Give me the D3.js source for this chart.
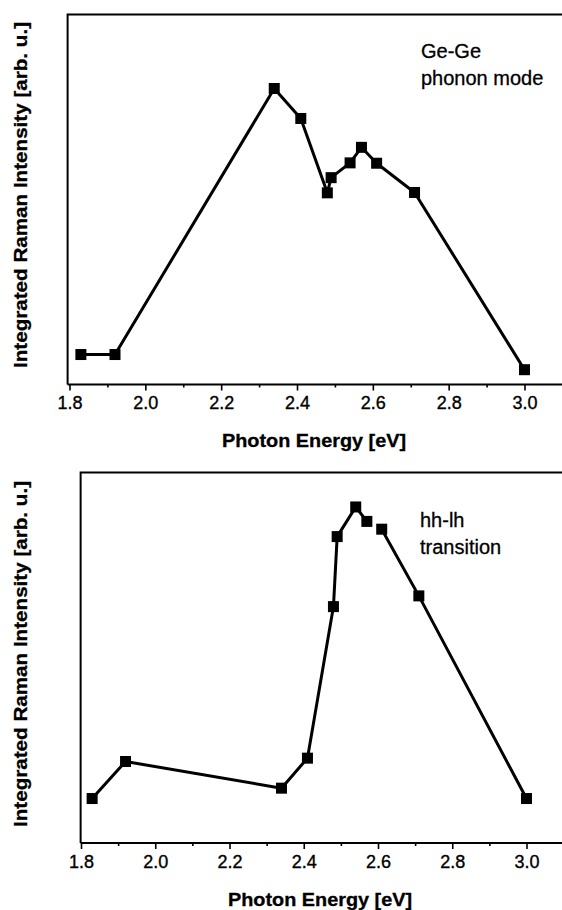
<!DOCTYPE html>
<html>
<head>
<meta charset="utf-8">
<script src="https://cdn.jsdelivr.net/npm/d3@7"></script>
<style>
  html, body { margin: 0; padding: 0; background: #fff; }
  svg { display: block; }
  text { font-family: "Liberation Sans", Arial, Helvetica, sans-serif; fill: #000; }
</style>
</head>
<body>
<svg id="chart" width="562" height="910"></svg>
<script>
// ---------- data ----------
const xTicksMajor = [1.8, 2.0, 2.2, 2.4, 2.6, 2.8, 3.0];
const xTicksMinor = [1.9, 2.1, 2.3, 2.5, 2.7, 2.9, 3.1];

// Ge-Ge phonon mode (arb. units)
const topEnergy    = [1.83, 1.92, 2.34, 2.41, 2.48, 2.49, 2.54, 2.57, 2.61, 2.71, 3.00];
const topIntensity = [8.1, 8.1, 80.0, 71.9, 51.8, 55.9, 59.9, 64.1, 59.8, 51.9, 4.0];

// hh-lh transition (arb. units)
const botEnergy    = [1.83, 1.92, 2.34, 2.41, 2.48, 2.49, 2.54, 2.57, 2.61, 2.71, 3.00];
const botIntensity = [12.0, 22.0, 14.8, 22.9, 63.8, 82.7, 90.7, 86.8, 84.7, 66.7, 12.0];
// the line is broken between 2.57 and 2.61 in the bottom panel
const botSegments  = [[0, 7], [8, 10]];
const topSegments  = [[0, 10]];

const topLabel = ["Ge-Ge", "phonon mode"];
const botLabel = ["hh-lh", "transition"];
const xTitle = "Photon Energy [eV]";
const yTitle = "Integrated Raman Intensity [arb. u.]";

// ---------- drawing ----------
const svg = d3.select("#chart");

function panel(cfg) {
  const g = svg.append("g");
  const x = d3.scaleLinear().domain([1.8, 3.0]).range([cfg.x18, cfg.x30]);
  const y = d3.scaleLinear().domain([0, 100]).range([cfg.bottom, cfg.top]);
  const left = x(cfg.xStart);

  // frame (right side runs off the picture)
  g.append("path")
    .attr("d", `M${left},${cfg.bottom} L${left},${cfg.top} L${600},${cfg.top}`)
    .attr("fill", "none").attr("stroke", "#000").attr("stroke-width", 2);

  // x axis
  const axis = d3.axisBottom(x).tickValues(xTicksMajor).tickSize(6).tickPadding(6)
    .tickFormat(d3.format(".1f"));
  const ax = g.append("g").attr("transform", `translate(0,${cfg.bottom})`).call(axis);
  ax.select(".domain").attr("d", `M${left},0 H600`).attr("stroke-width", 2);
  ax.selectAll(".tick line").attr("stroke-width", 1.6);
  ax.selectAll(".tick text").style("font-size", "18px").attr("fill", "#000")
    .attr("stroke", "#000").attr("stroke-width", 0.35);

  const minor = d3.axisBottom(x).tickValues(xTicksMinor).tickSize(3).tickFormat("");
  const mx = g.append("g").attr("transform", `translate(0,${cfg.bottom})`).call(minor);
  mx.select(".domain").remove();
  mx.selectAll(".tick line").attr("stroke-width", 1.6);

  // axis titles
  g.append("text")
    .attr("x", cfg.xTitleX).attr("y", cfg.xTitleY)
    .attr("text-anchor", "middle")
    .attr("textLength", 184).attr("lengthAdjust", "spacingAndGlyphs")
    .style("font-size", "18px").style("font-weight", "bold")
    .attr("stroke", "#000").attr("stroke-width", 0.3)
    .text(xTitle);

  g.append("text")
    .attr("transform", `translate(${cfg.yTitleX},${cfg.yTitleY}) rotate(-90)`)
    .attr("text-anchor", "middle")
    .attr("textLength", 346).attr("lengthAdjust", "spacingAndGlyphs")
    .style("font-size", "18px").style("font-weight", "bold")
    .attr("stroke", "#000").attr("stroke-width", 0.3)
    .text(yTitle);

  // data
  const pts = cfg.energy.map((e, i) => ({ e, v: cfg.intensity[i] }));
  const line = d3.line().x(d => x(d.e)).y(d => y(d.v));
  cfg.segments.forEach(([a, b]) => {
    g.append("path")
      .datum(pts.slice(a, b + 1))
      .attr("d", line)
      .attr("fill", "none").attr("stroke", "#000")
      .attr("stroke-width", 3).attr("stroke-linejoin", "round");
  });
  const s = 11;
  g.selectAll("rect.pt").data(pts).enter().append("rect")
    .attr("class", "pt")
    .attr("x", d => x(d.e) - s / 2).attr("y", d => y(d.v) - s / 2)
    .attr("width", s).attr("height", s).attr("fill", "#000");

  // annotation
  cfg.label.forEach((t, i) => {
    g.append("text")
      .attr("x", cfg.labelX).attr("y", cfg.labelY + i * 27)
      .style("font-size", "20px")
      .attr("stroke", "#000").attr("stroke-width", 0.3)
      .text(t);
  });
}

panel({
  x18: 69.5, x30: 524.5, xStart: 1.795,
  top: 14.5, bottom: 384.5,
  energy: topEnergy, intensity: topIntensity, segments: topSegments,
  xTitleX: 314, xTitleY: 447,
  yTitleX: 27, yTitleY: 195,
  label: topLabel, labelX: 421, labelY: 58
});

panel({
  x18: 81, x30: 526.5, xStart: 1.799,
  top: 472.5, bottom: 843,
  energy: botEnergy, intensity: botIntensity, segments: botSegments,
  xTitleX: 320, xTitleY: 906,
  yTitleX: 27, yTitleY: 654,
  label: botLabel, labelX: 420, labelY: 527
});
</script>
</body>
</html>
